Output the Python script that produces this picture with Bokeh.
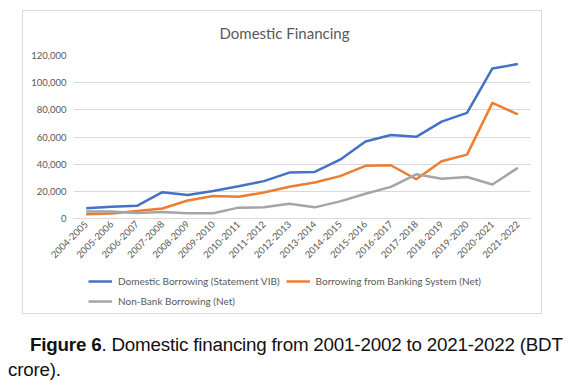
import math
from bokeh.plotting import figure
from bokeh.models import (Legend, LegendItem, NumeralTickFormatter, Title, Div,
                          FixedTicker, Spacer)
from bokeh.layouts import column, row
from bokeh.embed import file_html
from bokeh.resources import INLINE

years = ["2004-2005", "2005-2006", "2006-2007", "2007-2008", "2008-2009",
         "2009-2010", "2010-2011", "2011-2012", "2012-2013", "2013-2014",
         "2014-2015", "2015-2016", "2016-2017", "2017-2018", "2018-2019",
         "2019-2020", "2020-2021", "2021-2022"]
domestic_borrowing = [7500, 8700, 9300, 19400, 17300, 20300, 23800, 27500,
                      33800, 34300, 43300, 56700, 61500, 60100, 71300, 77800,
                      110500, 113700]
banking_system = [3100, 3600, 5500, 7400, 13300, 16600, 16000, 19100, 23400,
                  26500, 31200, 38800, 39200, 28900, 42200, 47000, 85100, 76600]
non_bank = [5100, 5100, 4100, 4800, 3800, 3800, 8000, 8200, 10800, 8200,
            12600, 18200, 23300, 32500, 29300, 30500, 25000, 37300]
y_ticks = [0, 20000, 40000, 60000, 80000, 100000, 120000]

label_blue = "Domestic Borrowing (Statement VIB)"
label_orange = "Borrowing from Banking System (Net)"
label_gray = "Non-Bank Borrowing (Net)"
title_text = "Domestic Financing"

FONT = "Lato"
TXT = "#595959"
BLUE, ORANGE, GRAY = "#4472C4", "#ED7D31", "#A5A5A5"
EDGE = "1px solid #d9d9d9"

# ---------------- chart ----------------
p = figure(x_range=years, y_range=(0, 120000), width=520, height=260,
           output_backend="svg", toolbar_location=None,
           min_border_left=50, min_border_right=13, min_border_top=42,
           min_border_bottom=53)
p.styles = {"border-top": EDGE, "border-left": EDGE, "border-right": EDGE}
p.x_range.range_padding = 0
p.outline_line_color = None
p.background_fill_color = "white"
p.border_fill_color = "white"

t = Title(text=title_text, text_font=FONT, text_font_size="15px",
          text_font_style="normal", text_color=TXT, align="left",
          vertical_align="top", offset=146, standoff=24)
p.add_layout(t, "above")

p.line(years, domestic_borrowing, line_color=BLUE, line_width=2.5)
p.line(years, banking_system, line_color=ORANGE, line_width=2.5)
p.line(years, non_bank, line_color=GRAY, line_width=2.5)

p.yaxis.ticker = FixedTicker(ticks=y_ticks)
p.yaxis.formatter = NumeralTickFormatter(format="0,0")
p.yaxis.axis_line_color = None
p.yaxis.major_tick_line_color = None
p.yaxis.minor_tick_line_color = None
p.yaxis.major_tick_out = 0
p.yaxis.major_tick_in = 0
p.yaxis.minor_tick_out = 0
p.yaxis.major_label_text_font = FONT
p.yaxis.major_label_text_font_size = "9.5px"
p.yaxis.major_label_text_color = TXT
p.yaxis.major_label_standoff = 7

p.xaxis.axis_line_color = "#d9d9d9"
p.xaxis.major_tick_line_color = None
p.xaxis.minor_tick_line_color = None
p.xaxis.major_tick_out = 0
p.xaxis.major_tick_in = 0
p.xaxis.minor_tick_out = 0
p.xaxis.major_label_orientation = math.pi / 4
p.xaxis.major_label_text_font = FONT
p.xaxis.major_label_text_font_size = "9.5px"
p.xaxis.major_label_text_color = TXT
p.xaxis.major_label_standoff = 4

p.xgrid.grid_line_color = None
p.ygrid.grid_line_color = "#d9d9d9"
p.ygrid.ticker = FixedTicker(ticks=y_ticks)

# ---------------- legend strip (bottom of the same box) ----------------
lg = figure(width=520, height=44, x_range=(0, 1), y_range=(0, 1),
            output_backend="svg", toolbar_location=None,
            x_axis_type=None, y_axis_type=None,
            min_border=0, min_border_left=50, min_border_right=13,
            min_border_top=0, min_border_bottom=0)
lg.styles = {"border-bottom": EDGE, "border-left": EDGE, "border-right": EDGE}
lg.outline_line_color = None
lg.xgrid.visible = False
lg.ygrid.visible = False
# legend keys only (no visible points)
k1 = lg.line([math.nan], [math.nan], line_color=BLUE, line_width=2.5)
k2 = lg.line([math.nan], [math.nan], line_color=ORANGE, line_width=2.5)
k3 = lg.line([math.nan], [math.nan], line_color=GRAY, line_width=2.5)

legend = Legend(items=[LegendItem(label=label_blue, renderers=[k1]),
                       LegendItem(label=label_orange, renderers=[k2]),
                       LegendItem(label=label_gray, renderers=[k3])],
                orientation="horizontal", ncols=2,
                location=(15, 6), margin=0,
                label_text_font=FONT, label_text_font_size="10px",
                label_text_color=TXT, glyph_width=24, glyph_height=14,
                label_standoff=6, padding=0, spacing=6, label_width=161,
                label_height=14,
                border_line_color=None, background_fill_alpha=0)
lg.add_layout(legend, "center")

box = column(p, lg, spacing=0)

caption = Div(
    text=('<span style="display:inline-block;width:22px"></span>'
          '<b>Figure 6</b>. Domestic financing from 2001-2002 to 2021-2022 (BDT'
          '<br>crore).'),
    width=561, height=68,
    styles={"font-family": "'Liberation Sans', Arial, sans-serif",
            "font-size": "18.8px", "line-height": "25px", "color": "#111111",
            "letter-spacing": "-0.2px",
            "padding-top": "18px", "padding-left": "8px",
            "white-space": "nowrap", "overflow": "visible"})
caption.margin = 0

layout = column(Spacer(height=10),
                row(Spacer(width=22), box),
                caption, spacing=0)
open("out.html", "w").write(file_html(layout, INLINE))
